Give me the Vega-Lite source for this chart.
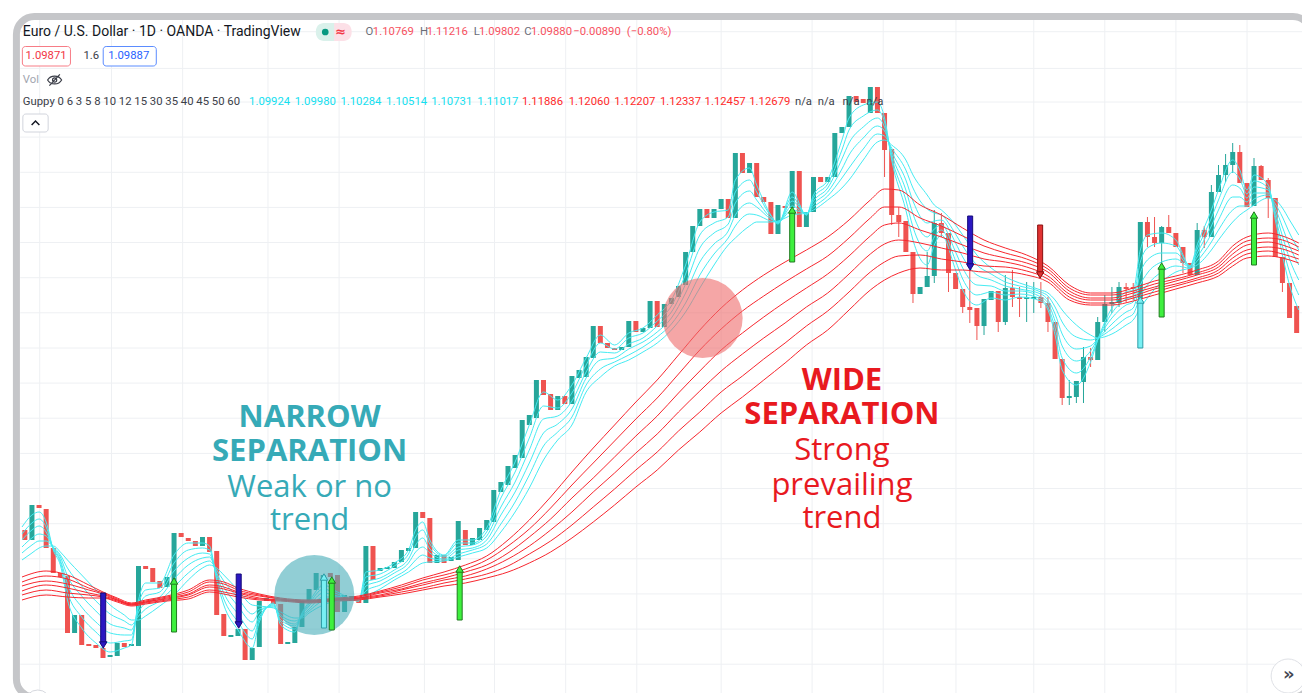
{
"$schema": "https://vega.github.io/schema/vega-lite/v6.json",
"width": 1302, "height": 693, "autosize": {"type": "none"}, "padding": 0,
"background": "#ffffff",
"config": {"view": {"stroke": null}},
"datasets": {
"hgrid": [{"p":1.13683},{"p":1.13316},{"p":1.1298},{"p":1.12629},{"p":1.12277},{"p":1.11926},{"p":1.11575},{"p":1.11223},{"p":1.10872},{"p":1.1052},{"p":1.10169},{"p":1.09818},{"p":1.09466},{"p":1.09115},{"p":1.08763},{"p":1.08412},{"p":1.08061},{"p":1.07709},{"p":1.07358}],
"vgrid": [{"k":2.09},{"k":12.19},{"k":22.21},{"k":34.22},{"k":44.23},{"k":56.24},{"k":66.1},{"k":76.12},{"k":86.13},{"k":98.0},{"k":110.8},{"k":120.81},{"k":131.05},{"k":142.0},{"k":152.0},{"k":162.01},{"k":172.02}],
"candles": [
{"k":0,"o":1.0870,"c":1.0860},{"k":1,"o":1.0860,"c":1.0895},{"k":2,"o":1.0895,"c":1.0892},{"k":3,"o":1.0891,"c":1.0852},{"k":4,"o":1.0852,"c":1.0827},{"k":5,"o":1.0827,"c":1.0823},{"k":6,"o":1.0824,"c":1.0767},{"k":7,"o":1.0767,"c":1.0785},{"k":8,"o":1.0785,"c":1.0755},{"k":9,"o":1.0756,"c":1.0754},
{"k":10,"o":1.0755,"c":1.0752},{"k":11,"o":1.0752,"c":1.0742},{"k":12,"o":1.0743,"c":1.0745},{"k":13,"o":1.0744,"c":1.0757},{"k":14,"o":1.0757,"c":1.0753},{"k":15,"o":1.0754,"c":1.0756},{"k":16,"o":1.0754,"c":1.0834},{"k":17,"o":1.0834,"c":1.0831},{"k":18,"o":1.0832,"c":1.0818},{"k":19,"o":1.0819,"c":1.0812},
{"k":20,"o":1.0813,"c":1.0823},{"k":21,"o":1.0813,"c":1.0867},{"k":22,"o":1.0867,"c":1.0863},{"k":23,"o":1.0862,"c":1.0859},{"k":24,"o":1.0859,"c":1.0854},{"k":25,"o":1.0854,"c":1.0863},{"k":26,"o":1.0863,"c":1.0848},{"k":27,"o":1.0849,"c":1.0785},{"k":28,"o":1.0786,"c":1.0764},{"k":29,"o":1.0763,"c":1.0765},
{"k":30,"o":1.0764,"c":1.0771},{"k":31,"o":1.0771,"c":1.0740},{"k":32,"o":1.0740,"c":1.0752},{"k":33,"o":1.0753,"c":1.0799},{"k":34,"o":1.0799,"c":1.0802},{"k":35,"o":1.0800,"c":1.0796},{"k":36,"o":1.0796,"c":1.0756},{"k":37,"o":1.0756,"c":1.0758},{"k":38,"o":1.0757,"c":1.0773},{"k":39,"o":1.0773,"c":1.0799},
{"k":40,"o":1.0799,"c":1.0811},{"k":41,"o":1.0810,"c":1.0827},{"k":42,"o":1.0812,"c":1.0825},{"k":43,"o":1.0827,"c":1.0823},{"k":44,"o":1.0825,"c":1.0788},{"k":45,"o":1.0788,"c":1.0805},{"k":46,"o":1.0800,"c":1.0804},{"k":47,"o":1.0802,"c":1.0797},{"k":48,"o":1.0797,"c":1.0854},{"k":49,"o":1.0854,"c":1.0820},
{"k":50,"o":1.0829,"c":1.0832},{"k":51,"o":1.0831,"c":1.0833},{"k":52,"o":1.0832,"c":1.0838},{"k":53,"o":1.0838,"c":1.0850},{"k":54,"o":1.0849,"c":1.0852},{"k":55,"o":1.0852,"c":1.0888},{"k":56,"o":1.0888,"c":1.0882},{"k":57,"o":1.0882,"c":1.0837},{"k":58,"o":1.0837,"c":1.0845},{"k":59,"o":1.0845,"c":1.0837},
{"k":60,"o":1.0839,"c":1.0843},{"k":61,"o":1.0840,"c":1.0879},{"k":62,"o":1.0870,"c":1.0855},{"k":63,"o":1.0855,"c":1.0862},{"k":64,"o":1.0860,"c":1.0872},{"k":65,"o":1.0870,"c":1.0880},{"k":66,"o":1.0878,"c":1.0910},{"k":67,"o":1.0908,"c":1.0918},{"k":68,"o":1.0915,"c":1.0934},{"k":69,"o":1.0932,"c":1.0945},
{"k":70,"o":1.0942,"c":1.0980},{"k":71,"o":1.0975,"c":1.0985},{"k":72,"o":1.0982,"c":1.1020},{"k":73,"o":1.1020,"c":1.1005},{"k":74,"o":1.1006,"c":1.0990},{"k":75,"o":1.0990,"c":1.1004},{"k":76,"o":1.1004,"c":1.0996},{"k":77,"o":1.0996,"c":1.1024},{"k":78,"o":1.1022,"c":1.1030},{"k":79,"o":1.1023,"c":1.1043},
{"k":80,"o":1.1042,"c":1.1074},{"k":81,"o":1.1074,"c":1.1057},{"k":82,"o":1.1057,"c":1.1052},{"k":83,"o":1.1052,"c":1.1050},{"k":84,"o":1.1050,"c":1.1053},{"k":85,"o":1.1053,"c":1.1079},{"k":86,"o":1.1079,"c":1.1068},{"k":87,"o":1.1068,"c":1.1072},{"k":88,"o":1.1072,"c":1.1099},{"k":89,"o":1.1099,"c":1.1073},
{"k":90,"o":1.1073,"c":1.1096},{"k":91,"o":1.1096,"c":1.1102},{"k":92,"o":1.1103,"c":1.1114},{"k":93,"o":1.1115,"c":1.1148},{"k":94,"o":1.1148,"c":1.1174},{"k":95,"o":1.1174,"c":1.1191},{"k":96,"o":1.1191,"c":1.1182},{"k":97,"o":1.1182,"c":1.1191},{"k":98,"o":1.1191,"c":1.1201},{"k":99,"o":1.1201,"c":1.1182},
{"k":100,"o":1.1182,"c":1.1247},{"k":101,"o":1.1247,"c":1.1227},{"k":102,"o":1.1227,"c":1.1237},{"k":103,"o":1.1237,"c":1.1203},{"k":104,"o":1.1203,"c":1.1198},{"k":105,"o":1.1198,"c":1.1166},{"k":106,"o":1.1166,"c":1.1195},{"k":107,"o":1.1194,"c":1.1192},{"k":108,"o":1.1192,"c":1.1229},{"k":109,"o":1.1229,"c":1.1173},
{"k":110,"o":1.1173,"c":1.1188},{"k":111,"o":1.1188,"c":1.1223},{"k":112,"o":1.1223,"c":1.1218},{"k":113,"o":1.1218,"c":1.1223},{"k":114,"o":1.1223,"c":1.1267},{"k":115,"o":1.1267,"c":1.1273},{"k":116,"o":1.1273,"c":1.1304},{"k":117,"o":1.1304,"c":1.1298},{"k":118,"o":1.1301,"c":1.1297},{"k":119,"o":1.1287,"c":1.1313},
{"k":120,"o":1.1313,"c":1.1287},{"k":121,"o":1.1287,"h":1.1287,"l":1.1223,"c":1.1250},{"k":122,"o":1.1251,"h":1.1251,"l":1.1175,"c":1.1185},{"k":123,"o":1.1185,"h":1.1193,"l":1.1163,"c":1.1178},{"k":124,"o":1.1179,"c":1.1148},{"k":125,"o":1.1148,"h":1.1148,"l":1.1097,"c":1.1106},{"k":126,"o":1.1106,"c":1.1113},{"k":127,"o":1.1113,"h":1.1148,"l":1.1113,"c":1.1124},{"k":128,"o":1.1124,"h":1.1190,"l":1.1117,"c":1.1177},{"k":129,"o":1.1177,"h":1.1187,"l":1.1163,"c":1.1167},
{"k":130,"o":1.1167,"h":1.1167,"l":1.1108,"c":1.1127},{"k":131,"o":1.1127,"c":1.1111},{"k":132,"o":1.1111,"h":1.1111,"l":1.1087,"c":1.1093},{"k":133,"o":1.1093,"h":1.1130,"l":1.1077,"c":1.1090},{"k":134,"o":1.1092,"h":1.1092,"l":1.1060,"c":1.1074},{"k":135,"o":1.1074,"h":1.1101,"l":1.1065,"c":1.1101},{"k":136,"o":1.1100,"c":1.1109},{"k":137,"o":1.1109,"h":1.1109,"l":1.1068,"c":1.1078},{"k":138,"o":1.1078,"h":1.1125,"l":1.1075,"c":1.1112},{"k":139,"o":1.1112,"h":1.1130,"l":1.1093,"c":1.1103},
{"k":140,"o":1.1103,"h":1.1113,"l":1.1083,"c":1.1101},{"k":141,"o":1.1101,"h":1.1118,"l":1.1078,"c":1.1103},{"k":142,"o":1.1101,"h":1.1118,"l":1.1087,"c":1.1103},{"k":143,"o":1.1103,"h":1.1118,"l":1.1092,"c":1.1097},{"k":144,"o":1.1097,"h":1.1103,"l":1.1068,"c":1.1078},{"k":145,"o":1.1078,"c":1.1041},{"k":146,"o":1.1041,"h":1.1041,"l":1.0995,"c":1.1002},{"k":147,"o":1.1002,"h":1.1020,"l":1.0995,"c":1.1004},{"k":148,"o":1.1003,"h":1.1019,"l":1.0997,"c":1.1019},{"k":149,"o":1.1018,"h":1.1053,"l":1.0997,"c":1.1043},
{"k":150,"o":1.1043,"h":1.1052,"l":1.1033,"c":1.1040},{"k":151,"o":1.1040,"h":1.1083,"l":1.1040,"c":1.1078},{"k":152,"o":1.1078,"h":1.1105,"l":1.1068,"c":1.1096},{"k":153,"o":1.1096,"h":1.1113,"l":1.1087,"c":1.1098},{"k":154,"o":1.1097,"h":1.1118,"l":1.1093,"c":1.1113},{"k":155,"o":1.1113,"h":1.1117,"l":1.1098,"c":1.1111},{"k":156,"o":1.1113,"h":1.1117,"l":1.1100,"c":1.1111},{"k":157,"o":1.1101,"c":1.1178},{"k":158,"o":1.1178,"h":1.1183,"l":1.1153,"c":1.1163},{"k":159,"o":1.1163,"h":1.1183,"l":1.1153,"c":1.1157},
{"k":160,"o":1.1157,"h":1.1174,"l":1.1137,"c":1.1173},{"k":161,"o":1.1173,"h":1.1185,"l":1.1167,"c":1.1167},{"k":162,"o":1.1167,"c":1.1153},{"k":163,"o":1.1153,"h":1.1153,"l":1.1127,"c":1.1137},{"k":164,"o":1.1137,"c":1.1125},{"k":165,"o":1.1125,"h":1.1177,"l":1.1125,"c":1.1170},{"k":166,"o":1.1170,"h":1.1174,"l":1.1152,"c":1.1163},{"k":167,"o":1.1163,"h":1.1215,"l":1.1163,"c":1.1208},{"k":168,"o":1.1208,"h":1.1235,"l":1.1208,"c":1.1225},{"k":169,"o":1.1225,"h":1.1246,"l":1.1218,"c":1.1235},
{"k":170,"o":1.1235,"h":1.1257,"l":1.1227,"c":1.1248},{"k":171,"o":1.1248,"h":1.1255,"l":1.1217,"c":1.1217},{"k":172,"o":1.1217,"c":1.1193},{"k":173,"o":1.1194,"h":1.1242,"l":1.1194,"c":1.1234},{"k":174,"o":1.1234,"h":1.1235,"l":1.1220,"c":1.1220},{"k":175,"o":1.1220,"h":1.1222,"l":1.1182,"c":1.1202},{"k":176,"o":1.1202,"c":1.1143},{"k":177,"o":1.1143,"h":1.1143,"l":1.1108,"c":1.1117},{"k":178,"o":1.1117,"c":1.1082},{"k":179,"o":1.1094,"c":1.1067}
],
"cy": [
{"k":-0.4,"c1":1.0873,"c2":1.0866,"c3":1.0860,"c4":1.0853,"c5":1.0847,"c6":1.0840},
{"k":1,"c1":1.0885,"c2":1.0877,"c3":1.0870,"c4":1.0862,"c5":1.0855,"c6":1.0847},
{"k":2,"c1":1.0888,"c2":1.0881,"c3":1.0874,"c4":1.0866,"c5":1.0859,"c6":1.0852},
{"k":3,"c1":1.0878,"c2":1.0873,"c3":1.0868,"c4":1.0864,"c5":1.0859,"c6":1.0854},
{"k":4,"c1":1.0850,"c2":1.0851,"c3":1.0852,"c4":1.0852,"c5":1.0853,"c6":1.0854},
{"k":5,"c1":1.0835,"c2":1.0838,"c3":1.0840,"c4":1.0843,"c5":1.0845,"c6":1.0848},
{"k":6,"c1":1.0800,"c2":1.0808,"c3":1.0816,"c4":1.0824,"c5":1.0832,"c6":1.0840},
{"k":8,"c1":1.0772,"c2":1.0783,"c3":1.0793,"c4":1.0804,"c5":1.0814,"c6":1.0825},
{"k":10,"c1":1.0757,"c2":1.0768,"c3":1.0778,"c4":1.0789,"c5":1.0799,"c6":1.0810},
{"k":12,"c1":1.0748,"c2":1.0757,"c3":1.0767,"c4":1.0776,"c5":1.0786,"c6":1.0795},
{"k":14,"c1":1.0752,"c2":1.0759,"c3":1.0765,"c4":1.0772,"c5":1.0779,"c6":1.0785},
{"k":15,"c1":1.0755,"c2":1.0760,"c3":1.0765,"c4":1.0770,"c5":1.0775,"c6":1.0780},
{"k":16,"c1":1.0800,"c2":1.0796,"c3":1.0792,"c4":1.0788,"c5":1.0784,"c6":1.0780},
{"k":17,"c1":1.0817,"c2":1.0810,"c3":1.0804,"c4":1.0797,"c5":1.0791,"c6":1.0784},
{"k":19,"c1":1.0817,"c2":1.0812,"c3":1.0808,"c4":1.0803,"c5":1.0799,"c6":1.0794},
{"k":21,"c1":1.0845,"c2":1.0837,"c3":1.0829,"c4":1.0821,"c5":1.0813,"c6":1.0805},
{"k":23,"c1":1.0857,"c2":1.0850,"c3":1.0842,"c4":1.0835,"c5":1.0827,"c6":1.0820},
{"k":25,"c1":1.0857,"c2":1.0852,"c3":1.0847,"c4":1.0842,"c5":1.0837,"c6":1.0832},
{"k":26,"c1":1.0854,"c2":1.0850,"c3":1.0846,"c4":1.0843,"c5":1.0839,"c6":1.0835},
{"k":27,"c1":1.0820,"c2":1.0822,"c3":1.0825,"c4":1.0827,"c5":1.0830,"c6":1.0832},
{"k":28,"c1":1.0795,"c2":1.0801,"c3":1.0807,"c4":1.0813,"c5":1.0819,"c6":1.0825},
{"k":30,"c1":1.0770,"c2":1.0778,"c3":1.0786,"c4":1.0794,"c5":1.0802,"c6":1.0810},
{"k":32,"c1":1.0752,"c2":1.0761,"c3":1.0769,"c4":1.0778,"c5":1.0786,"c6":1.0795},
{"k":33,"c1":1.0778,"c2":1.0781,"c3":1.0784,"c4":1.0788,"c5":1.0791,"c6":1.0794},
{"k":35,"c1":1.0797,"c2":1.0796,"c3":1.0795,"c4":1.0794,"c5":1.0793,"c6":1.0792},
{"k":36,"c1":1.0775,"c2":1.0778,"c3":1.0780,"c4":1.0783,"c5":1.0785,"c6":1.0788},
{"k":38,"c1":1.0768,"c2":1.0771,"c3":1.0774,"c4":1.0776,"c5":1.0779,"c6":1.0782},
{"k":39,"c1":1.0787,"c2":1.0786,"c3":1.0785,"c4":1.0784,"c5":1.0783,"c6":1.0782},
{"k":40,"c1":1.0798,"c2":1.0796,"c3":1.0794,"c4":1.0791,"c5":1.0789,"c6":1.0787},
{"k":42,"c1":1.0815,"c2":1.0811,"c3":1.0807,"c4":1.0803,"c5":1.0799,"c6":1.0795},
{"k":44,"c1":1.0808,"c2":1.0806,"c3":1.0804,"c4":1.0803,"c5":1.0801,"c6":1.0799},
{"k":47,"c1":1.0799,"c2":1.0799,"c3":1.0800,"c4":1.0800,"c5":1.0801,"c6":1.0801},
{"k":48,"c1":1.0828,"c2":1.0823,"c3":1.0818,"c4":1.0814,"c5":1.0809,"c6":1.0804},
{"k":50,"c1":1.0830,"c2":1.0826,"c3":1.0822,"c4":1.0819,"c5":1.0815,"c6":1.0811},
{"k":52,"c1":1.0837,"c2":1.0834,"c3":1.0830,"c4":1.0827,"c5":1.0823,"c6":1.0820},
{"k":54,"c1":1.0850,"c2":1.0846,"c3":1.0841,"c4":1.0837,"c5":1.0832,"c6":1.0828},
{"k":55,"c1":1.0870,"c2":1.0863,"c3":1.0855,"c4":1.0848,"c5":1.0840,"c6":1.0833},
{"k":56,"c1":1.0878,"c2":1.0870,"c3":1.0862,"c4":1.0853,"c5":1.0845,"c6":1.0837},
{"k":57,"c1":1.0860,"c2":1.0856,"c3":1.0851,"c4":1.0847,"c5":1.0842,"c6":1.0838},
{"k":59,"c1":1.0845,"c2":1.0844,"c3":1.0843,"c4":1.0841,"c5":1.0840,"c6":1.0839},
{"k":61,"c1":1.0860,"c2":1.0857,"c3":1.0853,"c4":1.0850,"c5":1.0846,"c6":1.0843},
{"k":63,"c1":1.0860,"c2":1.0857,"c3":1.0855,"c4":1.0852,"c5":1.0850,"c6":1.0847},
{"k":65,"c1":1.0872,"c2":1.0868,"c3":1.0864,"c4":1.0860,"c5":1.0856,"c6":1.0852},
{"k":67,"c1":1.0910,"c2":1.0902,"c3":1.0893,"c4":1.0885,"c5":1.0876,"c6":1.0868},
{"k":69,"c1":1.0938,"c2":1.0928,"c3":1.0918,"c4":1.0908,"c5":1.0898,"c6":1.0888},
{"k":71,"c1":1.0975,"c2":1.0962,"c3":1.0950,"c4":1.0937,"c5":1.0925,"c6":1.0912},
{"k":73,"c1":1.1008,"c2":1.0994,"c3":1.0981,"c4":1.0967,"c5":1.0954,"c6":1.0940},
{"k":75,"c1":1.1000,"c2":1.0992,"c3":1.0984,"c4":1.0976,"c5":1.0968,"c6":1.0960},
{"k":77,"c1":1.1015,"c2":1.1007,"c3":1.0999,"c4":1.0991,"c5":1.0983,"c6":1.0975},
{"k":79,"c1":1.1042,"c2":1.1035,"c3":1.1028,"c4":1.1022,"c5":1.1015,"c6":1.1008},
{"k":81,"c1":1.1065,"c2":1.1057,"c3":1.1048,"c4":1.1040,"c5":1.1031,"c6":1.1023},
{"k":83,"c1":1.1055,"c2":1.1051,"c3":1.1047,"c4":1.1042,"c5":1.1038,"c6":1.1034},
{"k":85,"c1":1.1067,"c2":1.1062,"c3":1.1056,"c4":1.1051,"c5":1.1045,"c6":1.1040},
{"k":87,"c1":1.1072,"c2":1.1067,"c3":1.1062,"c4":1.1058,"c5":1.1053,"c6":1.1048},
{"k":89,"c1":1.1085,"c2":1.1079,"c3":1.1074,"c4":1.1068,"c5":1.1063,"c6":1.1057},
{"k":91,"c1":1.1100,"c2":1.1094,"c3":1.1088,"c4":1.1082,"c5":1.1076,"c6":1.1070},
{"k":93,"c1":1.1135,"c2":1.1126,"c3":1.1116,"c4":1.1107,"c5":1.1097,"c6":1.1088},
{"k":95,"c1":1.1178,"c2":1.1165,"c3":1.1152,"c4":1.1138,"c5":1.1125,"c6":1.1112},
{"k":97,"c1":1.1188,"c2":1.1177,"c3":1.1167,"c4":1.1156,"c5":1.1146,"c6":1.1135},
{"k":99,"c1":1.1190,"c2":1.1183,"c3":1.1176,"c4":1.1169,"c5":1.1162,"c6":1.1155},
{"k":100,"c1":1.1220,"c2":1.1208,"c3":1.1197,"c4":1.1185,"c5":1.1174,"c6":1.1162},
{"k":102,"c1":1.1232,"c2":1.1220,"c3":1.1209,"c4":1.1197,"c5":1.1186,"c6":1.1174},
{"k":103,"c1":1.1215,"c2":1.1208,"c3":1.1200,"c4":1.1193,"c5":1.1185,"c6":1.1178},
{"k":105,"c1":1.1185,"c2":1.1184,"c3":1.1182,"c4":1.1181,"c5":1.1179,"c6":1.1178},
{"k":106,"c1":1.1176,"c2":1.1177,"c3":1.1177,"c4":1.1178,"c5":1.1178,"c6":1.1179},
{"k":108,"c1":1.1208,"c2":1.1203,"c3":1.1199,"c4":1.1194,"c5":1.1190,"c6":1.1185},
{"k":110,"c1":1.1185,"c2":1.1185,"c3":1.1186,"c4":1.1186,"c5":1.1187,"c6":1.1187},
{"k":111,"c1":1.1205,"c2":1.1202,"c3":1.1199,"c4":1.1196,"c5":1.1193,"c6":1.1190},
{"k":113,"c1":1.1220,"c2":1.1216,"c3":1.1212,"c4":1.1208,"c5":1.1204,"c6":1.1200},
{"k":115,"c1":1.1260,"c2":1.1250,"c3":1.1241,"c4":1.1231,"c5":1.1222,"c6":1.1212},
{"k":116,"c1":1.1282,"c2":1.1270,"c3":1.1257,"c4":1.1245,"c5":1.1232,"c6":1.1220},
{"k":118,"c1":1.1295,"c2":1.1284,"c3":1.1273,"c4":1.1262,"c5":1.1251,"c6":1.1240},
{"k":120,"c1":1.1298,"c2":1.1290,"c3":1.1282,"c4":1.1274,"c5":1.1266,"c6":1.1258},
{"k":121,"c1":1.1282,"c2":1.1278,"c3":1.1273,"c4":1.1269,"c5":1.1264,"c6":1.1260},
{"k":122,"c1":1.1240,"c2":1.1243,"c3":1.1246,"c4":1.1249,"c5":1.1252,"c6":1.1255},
{"k":124,"c1":1.1190,"c2":1.1200,"c3":1.1210,"c4":1.1220,"c5":1.1230,"c6":1.1240},
{"k":125,"c1":1.1160,"c2":1.1173,"c3":1.1186,"c4":1.1199,"c5":1.1212,"c6":1.1225},
{"k":127,"c1":1.1135,"c2":1.1149,"c3":1.1163,"c4":1.1177,"c5":1.1191,"c6":1.1205},
{"k":128,"c1":1.1155,"c2":1.1163,"c3":1.1171,"c4":1.1179,"c5":1.1187,"c6":1.1195},
{"k":129,"c1":1.1165,"c2":1.1170,"c3":1.1175,"c4":1.1180,"c5":1.1185,"c6":1.1190},
{"k":131,"c1":1.1130,"c2":1.1139,"c3":1.1148,"c4":1.1157,"c5":1.1166,"c6":1.1175},
{"k":132,"c1":1.1110,"c2":1.1121,"c3":1.1132,"c4":1.1143,"c5":1.1154,"c6":1.1165},
{"k":134,"c1":1.1095,"c2":1.1105,"c3":1.1115,"c4":1.1125,"c5":1.1135,"c6":1.1145},
{"k":136,"c1":1.1102,"c2":1.1108,"c3":1.1114,"c4":1.1120,"c5":1.1126,"c6":1.1132},
{"k":138,"c1":1.1100,"c2":1.1105,"c3":1.1109,"c4":1.1114,"c5":1.1118,"c6":1.1123},
{"k":140,"c1":1.1103,"c2":1.1106,"c3":1.1109,"c4":1.1111,"c5":1.1114,"c6":1.1117},
{"k":143,"c1":1.1099,"c2":1.1101,"c3":1.1103,"c4":1.1106,"c5":1.1108,"c6":1.1110},
{"k":144,"c1":1.1090,"c2":1.1093,"c3":1.1097,"c4":1.1100,"c5":1.1104,"c6":1.1107},
{"k":145,"c1":1.1065,"c2":1.1072,"c3":1.1079,"c4":1.1086,"c5":1.1093,"c6":1.1100},
{"k":146,"c1":1.1030,"c2":1.1042,"c3":1.1054,"c4":1.1066,"c5":1.1078,"c6":1.1090},
{"k":148,"c1":1.1015,"c2":1.1027,"c3":1.1039,"c4":1.1051,"c5":1.1063,"c6":1.1075},
{"k":150,"c1":1.1038,"c2":1.1043,"c3":1.1049,"c4":1.1054,"c5":1.1060,"c6":1.1065},
{"k":151,"c1":1.1060,"c2":1.1060,"c3":1.1061,"c4":1.1061,"c5":1.1062,"c6":1.1062},
{"k":153,"c1":1.1092,"c2":1.1087,"c3":1.1082,"c4":1.1076,"c5":1.1071,"c6":1.1066},
{"k":155,"c1":1.1108,"c2":1.1101,"c3":1.1095,"c4":1.1088,"c5":1.1082,"c6":1.1075},
{"k":156,"c1":1.1110,"c2":1.1104,"c3":1.1098,"c4":1.1092,"c5":1.1086,"c6":1.1080},
{"k":157,"c1":1.1150,"c2":1.1138,"c3":1.1127,"c4":1.1115,"c5":1.1104,"c6":1.1092},
{"k":158,"c1":1.1165,"c2":1.1152,"c3":1.1140,"c4":1.1127,"c5":1.1115,"c6":1.1102},
{"k":160,"c1":1.1167,"c2":1.1157,"c3":1.1147,"c4":1.1138,"c5":1.1128,"c6":1.1118},
{"k":162,"c1":1.1160,"c2":1.1154,"c3":1.1147,"c4":1.1141,"c5":1.1134,"c6":1.1128},
{"k":164,"c1":1.1134,"c2":1.1134,"c3":1.1133,"c4":1.1133,"c5":1.1132,"c6":1.1132},
{"k":165,"c1":1.1155,"c2":1.1151,"c3":1.1147,"c4":1.1143,"c5":1.1139,"c6":1.1135},
{"k":167,"c1":1.1190,"c2":1.1182,"c3":1.1174,"c4":1.1166,"c5":1.1158,"c6":1.1150},
{"k":168,"c1":1.1210,"c2":1.1200,"c3":1.1190,"c4":1.1180,"c5":1.1170,"c6":1.1160},
{"k":170,"c1":1.1240,"c2":1.1228,"c3":1.1215,"c4":1.1203,"c5":1.1190,"c6":1.1178},
{"k":171,"c1":1.1230,"c2":1.1221,"c3":1.1212,"c4":1.1203,"c5":1.1194,"c6":1.1185},
{"k":172,"c1":1.1210,"c2":1.1206,"c3":1.1202,"c4":1.1198,"c5":1.1194,"c6":1.1190},
{"k":173,"c1":1.1225,"c2":1.1219,"c3":1.1213,"c4":1.1207,"c5":1.1201,"c6":1.1195},
{"k":175,"c1":1.1215,"c2":1.1212,"c3":1.1210,"c4":1.1207,"c5":1.1205,"c6":1.1202},
{"k":176,"c1":1.1180,"c2":1.1184,"c3":1.1188,"c4":1.1192,"c5":1.1196,"c6":1.1200},
{"k":177,"c1":1.1145,"c2":1.1154,"c3":1.1164,"c4":1.1173,"c5":1.1183,"c6":1.1192},
{"k":178,"c1":1.1115,"c2":1.1128,"c3":1.1141,"c4":1.1154,"c5":1.1167,"c6":1.1180},
{"k":179.3,"c1":1.1090,"c2":1.1105,"c3":1.1120,"c4":1.1135,"c5":1.1150,"c6":1.1165}
],
"rd": [
{"k":-0.4,"r1":1.0823,"r2":1.0818,"r3":1.0814,"r4":1.0809,"r5":1.0805,"r6":1.0800},
{"k":3,"r1":1.0829,"r2":1.0824,"r3":1.0819,"r4":1.0815,"r5":1.0810,"r6":1.0805},
{"k":6,"r1":1.0825,"r2":1.0821,"r3":1.0816,"r4":1.0812,"r5":1.0807,"r6":1.0803},
{"k":9,"r1":1.0815,"r2":1.0812,"r3":1.0810,"r4":1.0807,"r5":1.0805,"r6":1.0802},
{"k":11,"r1":1.0808,"r2":1.0807,"r3":1.0806,"r4":1.0804,"r5":1.0803,"r6":1.0802},
{"k":13,"r1":1.0802,"r2":1.0801,"r3":1.0800,"r4":1.0800,"r5":1.0799,"r6":1.0798},
{"k":15,"r1":1.0797,"r2":1.0796,"r3":1.0796,"r4":1.0795,"r5":1.0795,"r6":1.0794},
{"k":17,"r1":1.0800,"r2":1.0799,"r3":1.0798,"r4":1.0798,"r5":1.0797,"r6":1.0796},
{"k":20,"r1":1.0804,"r2":1.0803,"r3":1.0802,"r4":1.0801,"r5":1.0800,"r6":1.0799},
{"k":23,"r1":1.0810,"r2":1.0808,"r3":1.0806,"r4":1.0805,"r5":1.0803,"r6":1.0801},
{"k":26,"r1":1.0820,"r2":1.0818,"r3":1.0815,"r4":1.0813,"r5":1.0810,"r6":1.0808},
{"k":28,"r1":1.0818,"r2":1.0816,"r3":1.0813,"r4":1.0811,"r5":1.0808,"r6":1.0806},
{"k":30,"r1":1.0812,"r2":1.0810,"r3":1.0808,"r4":1.0807,"r5":1.0805,"r6":1.0803},
{"k":33,"r1":1.0806,"r2":1.0805,"r3":1.0804,"r4":1.0802,"r5":1.0801,"r6":1.0800},
{"k":36,"r1":1.0802,"r2":1.0801,"r3":1.0801,"r4":1.0800,"r5":1.0800,"r6":1.0799},
{"k":40,"r1":1.0800,"r2":1.0799,"r3":1.0799,"r4":1.0798,"r5":1.0798,"r6":1.0797},
{"k":44,"r1":1.0802,"r2":1.0801,"r3":1.0801,"r4":1.0800,"r5":1.0800,"r6":1.0799},
{"k":47,"r1":1.0804,"r2":1.0803,"r3":1.0802,"r4":1.0802,"r5":1.0801,"r6":1.0800},
{"k":50,"r1":1.0809,"r2":1.0808,"r3":1.0807,"r4":1.0805,"r5":1.0804,"r6":1.0803},
{"k":53,"r1":1.0815,"r2":1.0813,"r3":1.0811,"r4":1.0810,"r5":1.0808,"r6":1.0806},
{"k":56,"r1":1.0822,"r2":1.0820,"r3":1.0817,"r4":1.0815,"r5":1.0812,"r6":1.0810},
{"k":59,"r1":1.0828,"r2":1.0825,"r3":1.0822,"r4":1.0820,"r5":1.0817,"r6":1.0814},
{"k":62,"r1":1.0835,"r2":1.0831,"r3":1.0828,"r4":1.0824,"r5":1.0821,"r6":1.0817},
{"k":65,"r1":1.0844,"r2":1.0840,"r3":1.0835,"r4":1.0831,"r5":1.0826,"r6":1.0822},
{"k":68,"r1":1.0860,"r2":1.0854,"r3":1.0847,"r4":1.0841,"r5":1.0834,"r6":1.0828},
{"k":71,"r1":1.0880,"r2":1.0871,"r3":1.0863,"r4":1.0854,"r5":1.0846,"r6":1.0837},
{"k":74,"r1":1.0903,"r2":1.0892,"r3":1.0881,"r4":1.0870,"r5":1.0859,"r6":1.0848},
{"k":77,"r1":1.0928,"r2":1.0915,"r3":1.0902,"r4":1.0888,"r5":1.0875,"r6":1.0862},
{"k":80,"r1":1.0952,"r2":1.0937,"r3":1.0922,"r4":1.0908,"r5":1.0893,"r6":1.0878},
{"k":83,"r1":1.0975,"r2":1.0959,"r3":1.0943,"r4":1.0927,"r5":1.0911,"r6":1.0895},
{"k":86,"r1":1.0998,"r2":1.0981,"r3":1.0964,"r4":1.0947,"r5":1.0930,"r6":1.0913},
{"k":89,"r1":1.1020,"r2":1.1002,"r3":1.0984,"r4":1.0966,"r5":1.0948,"r6":1.0930},
{"k":92,"r1":1.1045,"r2":1.1026,"r3":1.1007,"r4":1.0988,"r5":1.0969,"r6":1.0950},
{"k":95,"r1":1.1070,"r2":1.1050,"r3":1.1029,"r4":1.1009,"r5":1.0988,"r6":1.0968},
{"k":98,"r1":1.1092,"r2":1.1071,"r3":1.1050,"r4":1.1029,"r5":1.1008,"r6":1.0987},
{"k":101,"r1":1.1110,"r2":1.1089,"r3":1.1067,"r4":1.1046,"r5":1.1024,"r6":1.1003},
{"k":104,"r1":1.1125,"r2":1.1104,"r3":1.1083,"r4":1.1062,"r5":1.1041,"r6":1.1020},
{"k":107,"r1":1.1138,"r2":1.1118,"r3":1.1098,"r4":1.1077,"r5":1.1057,"r6":1.1037},
{"k":110,"r1":1.1150,"r2":1.1131,"r3":1.1112,"r4":1.1093,"r5":1.1074,"r6":1.1055},
{"k":113,"r1":1.1163,"r2":1.1144,"r3":1.1126,"r4":1.1107,"r5":1.1089,"r6":1.1070},
{"k":116,"r1":1.1180,"r2":1.1162,"r3":1.1144,"r4":1.1126,"r5":1.1108,"r6":1.1090},
{"k":119,"r1":1.1200,"r2":1.1182,"r3":1.1164,"r4":1.1146,"r5":1.1128,"r6":1.1110},
{"k":121,"r1":1.1211,"r2":1.1193,"r3":1.1175,"r4":1.1156,"r5":1.1138,"r6":1.1120},
{"k":123,"r1":1.1210,"r2":1.1193,"r3":1.1177,"r4":1.1160,"r5":1.1144,"r6":1.1127},
{"k":126,"r1":1.1195,"r2":1.1182,"r3":1.1170,"r4":1.1157,"r5":1.1145,"r6":1.1132},
{"k":129,"r1":1.1185,"r2":1.1174,"r3":1.1163,"r4":1.1152,"r5":1.1141,"r6":1.1130},
{"k":132,"r1":1.1172,"r2":1.1164,"r3":1.1155,"r4":1.1147,"r5":1.1138,"r6":1.1130},
{"k":135,"r1":1.1160,"r2":1.1154,"r3":1.1147,"r4":1.1141,"r5":1.1134,"r6":1.1128},
{"k":138,"r1":1.1152,"r2":1.1147,"r3":1.1142,"r4":1.1138,"r5":1.1133,"r6":1.1128},
{"k":141,"r1":1.1145,"r2":1.1141,"r3":1.1137,"r4":1.1133,"r5":1.1129,"r6":1.1125},
{"k":144,"r1":1.1134,"r2":1.1131,"r3":1.1128,"r4":1.1124,"r5":1.1121,"r6":1.1118},
{"k":147,"r1":1.1115,"r2":1.1112,"r3":1.1109,"r4":1.1106,"r5":1.1103,"r6":1.1100},
{"k":150,"r1":1.1107,"r2":1.1105,"r3":1.1102,"r4":1.1100,"r5":1.1097,"r6":1.1095},
{"k":153,"r1":1.1107,"r2":1.1105,"r3":1.1102,"r4":1.1100,"r5":1.1097,"r6":1.1095},
{"k":156,"r1":1.1112,"r2":1.1109,"r3":1.1107,"r4":1.1104,"r5":1.1102,"r6":1.1099},
{"k":159,"r1":1.1119,"r2":1.1116,"r3":1.1113,"r4":1.1111,"r5":1.1108,"r6":1.1105},
{"k":162,"r1":1.1124,"r2":1.1121,"r3":1.1119,"r4":1.1116,"r5":1.1114,"r6":1.1111},
{"k":165,"r1":1.1130,"r2":1.1127,"r3":1.1125,"r4":1.1122,"r5":1.1120,"r6":1.1117},
{"k":168,"r1":1.1139,"r2":1.1136,"r3":1.1133,"r4":1.1130,"r5":1.1127,"r6":1.1124},
{"k":170,"r1":1.1154,"r2":1.1150,"r3":1.1146,"r4":1.1142,"r5":1.1138,"r6":1.1134},
{"k":172,"r1":1.1163,"r2":1.1159,"r3":1.1155,"r4":1.1150,"r5":1.1146,"r6":1.1142},
{"k":175,"r1":1.1167,"r2":1.1162,"r3":1.1158,"r4":1.1153,"r5":1.1149,"r6":1.1144},
{"k":177,"r1":1.1164,"r2":1.1160,"r3":1.1155,"r4":1.1151,"r5":1.1146,"r6":1.1142},
{"k":179.3,"r1":1.1157,"r2":1.1153,"r3":1.1149,"r4":1.1145,"r5":1.1141,"r6":1.1137}
],
"zones": [{"k":40.74,"p":1.0805,"g":"narrow"},{"k":95.4,"p":1.1082,"g":"wide"}],
"arrows": [
{"k":11.03,"tail":1.0807,"neck":1.0756,"hp":1.0755,"kind":"blue","dir":"down"},
{"k":30.1,"tail":1.0826,"neck":1.0776,"hp":1.0775,"kind":"blue","dir":"down"},
{"k":133.05,"tail":1.1184,"neck":1.1134,"hp":1.1133,"kind":"blue","dir":"down"},
{"k":142.9,"tail":1.1175,"neck":1.1126,"hp":1.1125,"kind":"red","dir":"down"},
{"k":21.0,"tail":1.0768,"neck":1.0818,"hp":1.0819,"kind":"green","dir":"up"},
{"k":42.1,"tail":1.0772,"neck":1.0822,"hp":1.0823,"kind":"cyan","dir":"up"},
{"k":43.2,"tail":1.0770,"neck":1.0819,"hp":1.0820,"kind":"green","dir":"up"},
{"k":61.2,"tail":1.0780,"neck":1.0830,"hp":1.0831,"kind":"green","dir":"up"},
{"k":108.0,"tail":1.1138,"neck":1.1189,"hp":1.1190,"kind":"green","dir":"up"},
{"k":157.0,"tail":1.1052,"neck":1.1099,"hp":1.1100,"kind":"cyan","dir":"up"},
{"k":160.0,"tail":1.1083,"neck":1.1133,"hp":1.1134,"kind":"green","dir":"up"},
{"k":173.0,"tail":1.1135,"neck":1.1184,"hp":1.1185,"kind":"green","dir":"up"}
],
"notes": [
{"k":40.08,"p":1.0982,"t":"NARROW","g":"tb"},
{"k":40.08,"p":1.0948,"t":"SEPARATION","g":"tb"},
{"k":40.08,"p":1.0912,"t":"Weak or no","g":"tr"},
{"k":40.08,"p":1.0879,"t":"trend","g":"tr"},
{"k":115.0,"p":1.1019,"t":"WIDE","g":"rb"},
{"k":115.0,"p":1.0985,"t":"SEPARATION","g":"rb"},
{"k":115.0,"p":1.0949,"t":"Strong","g":"rr"},
{"k":115.0,"p":1.0914,"t":"prevailing","g":"rr"},
{"k":115.0,"p":1.0881,"t":"trend","g":"rr"}
],
"hdr": [
{"k":-0.28,"p":1.1368,"t":"Euro / U.S. Dollar · 1D · OANDA · TradingView","g":"title"},
{"k":47.95,"p":1.1368,"t":"O","g":"lab"},
{"k":48.98,"p":1.1368,"t":"1.10769","g":"val"},
{"k":55.63,"p":1.1368,"t":"H","g":"lab"},
{"k":56.56,"p":1.1368,"t":"1.11216","g":"val"},
{"k":63.17,"p":1.1368,"t":"L","g":"lab"},
{"k":63.92,"p":1.1368,"t":"1.09802","g":"val"},
{"k":70.29,"p":1.1368,"t":"C","g":"lab"},
{"k":71.23,"p":1.1368,"t":"1.09880","g":"val"},
{"k":77.19,"p":1.1368,"t":"−0.00890","g":"val"},
{"k":84.73,"p":1.1368,"t":"(−0.80%)","g":"val"},
{"k":0.1,"p":1.1344,"t":"1.09871","g":"rbox"},
{"k":8.24,"p":1.1344,"t":"1.6","g":"dk"},
{"k":11.73,"p":1.1344,"t":"1.09887","g":"bbox"},
{"k":-0.28,"p":1.1320,"t":"Vol","g":"vol"},
{"k":-0.28,"p":1.1298,"t":"Guppy 0 6 3 5 8 10 12 15 30 35 40 45 50 60","g":"dk"},
{"k":31.56,"p":1.1298,"t":"1.09924","g":"cy"},
{"k":37.99,"p":1.1298,"t":"1.09980","g":"cy"},
{"k":44.41,"p":1.1298,"t":"1.10284","g":"cy"},
{"k":50.84,"p":1.1298,"t":"1.10514","g":"cy"},
{"k":57.19,"p":1.1298,"t":"1.10731","g":"cy"},
{"k":63.69,"p":1.1298,"t":"1.11017","g":"cy"},
{"k":69.97,"p":1.1298,"t":"1.11886","g":"rd"},
{"k":76.54,"p":1.1298,"t":"1.12060","g":"rd"},
{"k":82.96,"p":1.1298,"t":"1.12207","g":"rd"},
{"k":89.39,"p":1.1298,"t":"1.12337","g":"rd"},
{"k":95.67,"p":1.1298,"t":"1.12457","g":"rd"},
{"k":101.96,"p":1.1298,"t":"1.12679","g":"rd"},
{"k":108.38,"p":1.1298,"t":"n/a","g":"dk"},
{"k":111.59,"p":1.1298,"t":"n/a","g":"dk"},
{"k":115.08,"p":1.1298,"t":"n/a","g":"dk"},
{"k":118.44,"p":1.1298,"t":"n/a","g":"dk"}
],
"boxes": [
{"k":-0.35,"k2":6.42,"p":1.13535,"p2":1.1334,"g":"r"},
{"k":11.03,"k2":18.5,"p":1.13535,"p2":1.1334,"g":"b"},
{"k":-0.28,"k2":3.28,"p":1.1286,"p2":1.1268,"g":"n"}
]
},
"layer": [
{"data": {"name": "hgrid"}, "mark": {"type": "rule", "color": "#eef0f3", "strokeWidth": 1},
 "encoding": {"y": {"field": "p", "type": "quantitative", "scale": {"domain": [1.0707, 1.14], "nice": false, "zero": false}, "axis": null},
  "x": {"datum": -0.65, "type": "quantitative", "scale": {"domain": [-2.7933, 179.0503], "nice": false, "zero": false}, "axis": null}, "x2": {"datum": 181}}},
{"data": {"name": "vgrid"}, "mark": {"type": "rule", "color": "#eef0f3", "strokeWidth": 1},
 "encoding": {"x": {"field": "k", "type": "quantitative", "scale": {"domain": [-2.7933, 179.0503], "nice": false, "zero": false}, "axis": null},
  "y": {"datum": 1.138, "type": "quantitative", "scale": {"domain": [1.0707, 1.14], "nice": false, "zero": false}, "axis": null}, "y2": {"datum": 1.0690}}},
{"data": {"name": "candles"}, "transform": [{"filter": "isValid(datum.h)"}], "mark": {"type": "rule", "strokeWidth": 1},
 "encoding": {"x": {"field": "k", "type": "quantitative", "scale": {"domain": [-2.7933, 179.0503], "nice": false, "zero": false}, "axis": null},
  "y": {"field": "h", "type": "quantitative", "scale": {"domain": [1.0707, 1.14], "nice": false, "zero": false}, "axis": null}, "y2": {"field": "l"},
  "color": {"condition": {"test": "datum.c >= datum.o", "value": "#26a69a"}, "value": "#ef5350"}}},
{"data": {"name": "candles"}, "mark": {"type": "bar", "width": 5},
 "encoding": {"x": {"field": "k", "type": "quantitative", "scale": {"domain": [-2.7933, 179.0503], "nice": false, "zero": false}, "axis": null},
  "y": {"field": "o", "type": "quantitative", "scale": {"domain": [1.0707, 1.14], "nice": false, "zero": false}, "axis": null}, "y2": {"field": "c"},
  "color": {"condition": {"test": "datum.c >= datum.o", "value": "#26a69a"}, "value": "#ef5350"}}},
{"data": {"name": "cy"}, "transform": [{"fold": ["c1","c2","c3","c4","c5","c6"], "as": ["ln","v"]}],
 "mark": {"type": "line", "color": "#45ebf2", "strokeWidth": 1, "interpolate": "monotone"},
 "encoding": {"x": {"field": "k", "type": "quantitative", "scale": {"domain": [-2.7933, 179.0503], "nice": false, "zero": false}, "axis": null},
  "y": {"field": "v", "type": "quantitative", "scale": {"domain": [1.0707, 1.14], "nice": false, "zero": false}, "axis": null}, "detail": {"field": "ln"}}},
{"data": {"name": "rd"}, "transform": [{"fold": ["r1","r2","r3","r4","r5","r6"], "as": ["ln","v"]}],
 "mark": {"type": "line", "color": "#f7262e", "strokeWidth": 1, "interpolate": "monotone"},
 "encoding": {"x": {"field": "k", "type": "quantitative", "scale": {"domain": [-2.7933, 179.0503], "nice": false, "zero": false}, "axis": null},
  "y": {"field": "v", "type": "quantitative", "scale": {"domain": [1.0707, 1.14], "nice": false, "zero": false}, "axis": null}, "detail": {"field": "ln"}}},
{"data": {"name": "zones"}, "mark": {"type": "point", "shape": "circle", "filled": true, "size": 6400, "opacity": 0.6},
 "encoding": {"x": {"field": "k", "type": "quantitative", "scale": {"domain": [-2.7933, 179.0503], "nice": false, "zero": false}, "axis": null},
  "y": {"field": "p", "type": "quantitative", "scale": {"domain": [1.0707, 1.14], "nice": false, "zero": false}, "axis": null},
  "color": {"condition": {"test": "datum.g === 'narrow'", "value": "#48aeb9"}, "value": "#ef6b6b"}}},
{"data": {"name": "arrows"}, "mark": {"type": "bar", "width": 5, "strokeWidth": 1},
 "encoding": {"x": {"field": "k", "type": "quantitative", "scale": {"domain": [-2.7933, 179.0503], "nice": false, "zero": false}, "axis": null},
  "y": {"field": "tail", "type": "quantitative", "scale": {"domain": [1.0707, 1.14], "nice": false, "zero": false}, "axis": null}, "y2": {"field": "neck"},
  "fill": {"condition": [{"test": "datum.kind === 'blue'", "value": "#2b17c2"}, {"test": "datum.kind === 'green'", "value": "#3ef03e"}, {"test": "datum.kind === 'cyan'", "value": "#78f0f4"}], "value": "#e03232"},
  "stroke": {"condition": [{"test": "datum.kind === 'blue'", "value": "#150a78"}, {"test": "datum.kind === 'green'", "value": "#207a20"}, {"test": "datum.kind === 'cyan'", "value": "#2e9ca6"}], "value": "#8a1010"}}},
{"data": {"name": "arrows"}, "mark": {"type": "point", "filled": true, "size": 55, "strokeWidth": 1, "opacity": 1},
 "encoding": {"x": {"field": "k", "type": "quantitative", "scale": {"domain": [-2.7933, 179.0503], "nice": false, "zero": false}, "axis": null},
  "y": {"field": "hp", "type": "quantitative", "scale": {"domain": [1.0707, 1.14], "nice": false, "zero": false}, "axis": null},
  "shape": {"condition": {"test": "datum.dir === 'up'", "value": "triangle-up"}, "value": "triangle-down"},
  "fill": {"condition": [{"test": "datum.kind === 'blue'", "value": "#2b17c2"}, {"test": "datum.kind === 'green'", "value": "#3ef03e"}, {"test": "datum.kind === 'cyan'", "value": "#78f0f4"}], "value": "#e03232"},
  "stroke": {"condition": [{"test": "datum.kind === 'blue'", "value": "#150a78"}, {"test": "datum.kind === 'green'", "value": "#207a20"}, {"test": "datum.kind === 'cyan'", "value": "#2e9ca6"}], "value": "#8a1010"}}},
{"data": {"name": "notes"}, "transform": [{"filter": "datum.g === 'tb' || datum.g === 'rb'"}],
 "mark": {"type": "text", "font": "Open Sans", "fontWeight": "bold", "fontSize": 31, "align": "center", "baseline": "middle"},
 "encoding": {"x": {"field": "k", "type": "quantitative", "scale": {"domain": [-2.7933, 179.0503], "nice": false, "zero": false}, "axis": null},
  "y": {"field": "p", "type": "quantitative", "scale": {"domain": [1.0707, 1.14], "nice": false, "zero": false}, "axis": null},
  "text": {"field": "t"}, "color": {"condition": {"test": "datum.g === 'tb'", "value": "#36aab7"}, "value": "#e8191f"}}},
{"data": {"name": "notes"}, "transform": [{"filter": "datum.g === 'tr' || datum.g === 'rr'"}],
 "mark": {"type": "text", "font": "Open Sans", "fontWeight": 500, "fontSize": 31, "align": "center", "baseline": "middle"},
 "encoding": {"x": {"field": "k", "type": "quantitative", "scale": {"domain": [-2.7933, 179.0503], "nice": false, "zero": false}, "axis": null},
  "y": {"field": "p", "type": "quantitative", "scale": {"domain": [1.0707, 1.14], "nice": false, "zero": false}, "axis": null},
  "text": {"field": "t"}, "color": {"condition": {"test": "datum.g === 'tr'", "value": "#36aab7"}, "value": "#e8191f"}}},
{"data": {"name": "boxes"}, "mark": {"type": "rect", "fill": "#ffffff", "strokeWidth": 1, "cornerRadius": 3},
 "encoding": {"x": {"field": "k", "type": "quantitative", "scale": {"domain": [-2.7933, 179.0503], "nice": false, "zero": false}, "axis": null}, "x2": {"field": "k2"},
  "y": {"field": "p", "type": "quantitative", "scale": {"domain": [1.0707, 1.14], "nice": false, "zero": false}, "axis": null}, "y2": {"field": "p2"},
  "stroke": {"condition": [{"test": "datum.g === 'r'", "value": "#f77c86"}, {"test": "datum.g === 'b'", "value": "#5b8cff"}], "value": "#d1d4dc"}}},
{"data": {"values": [{"k": 40.96, "k2": 43.9, "p": 1.1377, "p2": 1.1359}]}, "mark": {"type": "rect", "fill": "#daf1eb", "cornerRadiusTopLeft": 8, "cornerRadiusBottomLeft": 8},
 "encoding": {"x": {"field": "k", "type": "quantitative", "scale": {"domain": [-2.7933, 179.0503], "nice": false, "zero": false}, "axis": null}, "x2": {"field": "k2"},
  "y": {"field": "p", "type": "quantitative", "scale": {"domain": [1.0707, 1.14], "nice": false, "zero": false}, "axis": null}, "y2": {"field": "p2"}}},
{"data": {"values": [{"k": 43.53, "k2": 45.99, "p": 1.1377, "p2": 1.1359}]}, "mark": {"type": "rect", "fill": "#fce0e7", "cornerRadiusTopRight": 8, "cornerRadiusBottomRight": 8},
 "encoding": {"x": {"field": "k", "type": "quantitative", "scale": {"domain": [-2.7933, 179.0503], "nice": false, "zero": false}, "axis": null}, "x2": {"field": "k2"},
  "y": {"field": "p", "type": "quantitative", "scale": {"domain": [1.0707, 1.14], "nice": false, "zero": false}, "axis": null}, "y2": {"field": "p2"}}},
{"data": {"values": [{"k": 42.28, "p": 1.1368}]}, "mark": {"type": "point", "shape": "circle", "filled": true, "size": 45, "color": "#089981", "opacity": 1},
 "encoding": {"x": {"field": "k", "type": "quantitative", "scale": {"domain": [-2.7933, 179.0503], "nice": false, "zero": false}, "axis": null},
  "y": {"field": "p", "type": "quantitative", "scale": {"domain": [1.0707, 1.14], "nice": false, "zero": false}, "axis": null}}},
{"data": {"values": [{"k": 44.45, "p": 1.1368, "t": "≈"}]}, "mark": {"type": "text", "font": "DejaVu Sans", "fontSize": 13, "fontWeight": "bold", "color": "#f23645", "align": "center", "baseline": "middle"},
 "encoding": {"x": {"field": "k", "type": "quantitative", "scale": {"domain": [-2.7933, 179.0503], "nice": false, "zero": false}, "axis": null},
  "y": {"field": "p", "type": "quantitative", "scale": {"domain": [1.0707, 1.14], "nice": false, "zero": false}, "axis": null}, "text": {"field": "t"}}},
{"data": {"name": "hdr"}, "mark": {"type": "text", "font": "Roboto", "align": "left", "baseline": "middle"},
 "encoding": {"x": {"field": "k", "type": "quantitative", "scale": {"domain": [-2.7933, 179.0503], "nice": false, "zero": false}, "axis": null},
  "y": {"field": "p", "type": "quantitative", "scale": {"domain": [1.0707, 1.14], "nice": false, "zero": false}, "axis": null},
  "text": {"field": "t"},
  "size": {"condition": {"test": "datum.g === 'title'", "value": 14}, "value": 11.3},
  "color": {"condition": [{"test": "datum.g === 'title'", "value": "#131722"}, {"test": "datum.g === 'lab'", "value": "#6a6d78"}, {"test": "datum.g === 'val'", "value": "#f7525f"}, {"test": "datum.g === 'rbox'", "value": "#f23645"}, {"test": "datum.g === 'bbox'", "value": "#2962ff"}, {"test": "datum.g === 'vol'", "value": "#a3a6af"}, {"test": "datum.g === 'cy'", "value": "#14e0f0"}, {"test": "datum.g === 'rd'", "value": "#ff2b2b"}], "value": "#3b3e48"}}},
{"data": {"values": [{"k": 4.19, "p": 1.1320}]}, "mark": {"type": "point", "shape": "M-1,0 C-0.6,-0.75 0.6,-0.75 1,0 C0.6,0.75 -0.6,0.75 -1,0 Z M-0.3,0 A0.3,0.3 0 1,0 0.3,0 A0.3,0.3 0 1,0 -0.3,0 M-0.75,0.8 L0.75,-0.8", "filled": false, "size": 196, "stroke": "#3b3e48", "strokeWidth": 1.2, "opacity": 1},
 "encoding": {"x": {"field": "k", "type": "quantitative", "scale": {"domain": [-2.7933, 179.0503], "nice": false, "zero": false}, "axis": null},
  "y": {"field": "p", "type": "quantitative", "scale": {"domain": [1.0707, 1.14], "nice": false, "zero": false}, "axis": null}}},
{"data": {"values": [{"k": 1.5, "p": 1.1277}]}, "mark": {"type": "point", "shape": "M-1,0.5 L0,-0.5 L1,0.5", "filled": false, "size": 60, "stroke": "#131722", "strokeWidth": 1.5, "opacity": 1},
 "encoding": {"x": {"field": "k", "type": "quantitative", "scale": {"domain": [-2.7933, 179.0503], "nice": false, "zero": false}, "axis": null},
  "y": {"field": "p", "type": "quantitative", "scale": {"domain": [1.0707, 1.14], "nice": false, "zero": false}, "axis": null}}},
{"data": {"values": [{"k": 177.8, "p": 1.0724}]}, "mark": {"type": "point", "shape": "circle", "filled": true, "size": 1156, "fill": "#ffffff", "stroke": "#dfe1e6", "strokeWidth": 1, "opacity": 1},
 "encoding": {"x": {"field": "k", "type": "quantitative", "scale": {"domain": [-2.7933, 179.0503], "nice": false, "zero": false}, "axis": null},
  "y": {"field": "p", "type": "quantitative", "scale": {"domain": [1.0707, 1.14], "nice": false, "zero": false}, "axis": null}}},
{"data": {"values": [{"k": 177.9, "p": 1.0725, "t": "»"}]}, "mark": {"type": "text", "font": "DejaVu Sans", "fontSize": 18, "fontWeight": "bold", "color": "#434651", "align": "center", "baseline": "middle"},
 "encoding": {"x": {"field": "k", "type": "quantitative", "scale": {"domain": [-2.7933, 179.0503], "nice": false, "zero": false}, "axis": null},
  "y": {"field": "p", "type": "quantitative", "scale": {"domain": [1.0707, 1.14], "nice": false, "zero": false}, "axis": null}, "text": {"field": "t"}}},
{"data": {"values": [{"k": 1.82, "p": 1.0697}]}, "mark": {"type": "point", "shape": "circle", "filled": true, "size": 676, "fill": "#ffffff", "stroke": "#d6d8de", "strokeWidth": 1, "opacity": 1},
 "encoding": {"x": {"field": "k", "type": "quantitative", "scale": {"domain": [-2.7933, 179.0503], "nice": false, "zero": false}, "axis": null},
  "y": {"field": "p", "type": "quantitative", "scale": {"domain": [1.0707, 1.14], "nice": false, "zero": false}, "axis": null}}},
{"data": {"values": [{"k": -1.187, "k2": 181, "p": 1.13835, "p2": 1.0703}]}, "mark": {"type": "rect", "fill": null, "fillOpacity": 0, "stroke": "#c5c6c9", "strokeWidth": 7, "cornerRadius": 18},
 "encoding": {"x": {"field": "k", "type": "quantitative", "scale": {"domain": [-2.7933, 179.0503], "nice": false, "zero": false}, "axis": null}, "x2": {"field": "k2"},
  "y": {"field": "p", "type": "quantitative", "scale": {"domain": [1.0707, 1.14], "nice": false, "zero": false}, "axis": null}, "y2": {"field": "p2"}}}
]
}
